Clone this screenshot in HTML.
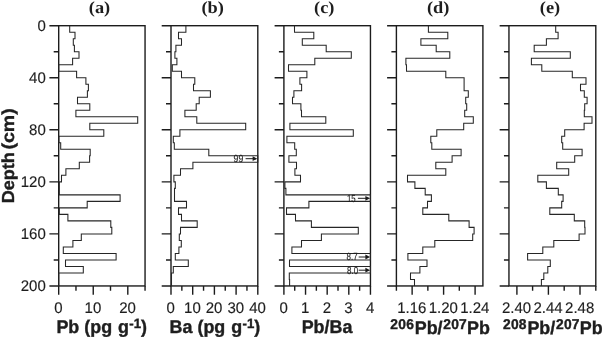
<!DOCTYPE html>
<html lang="en"><head><meta charset="utf-8"><title>Depth profiles</title>
<style>html,body{margin:0;padding:0;background:#fff;}body{width:602px;height:338px;overflow:hidden;}</style>
</head><body>
<svg width="602" height="338" viewBox="0 0 602 338" style="display:block" text-rendering="geometricPrecision">
<rect x="58.7" y="25.7" width="86.35" height="260.25" fill="none" stroke="#1c1c1c" stroke-width="1.4"/>
<path d="M49.40 25.70H58.70M53.70 51.72H58.70M49.40 77.75H58.70M53.70 103.78H58.70M49.40 129.80H58.70M53.70 155.82H58.70M49.40 181.85H58.70M53.70 207.88H58.70M49.40 233.90H58.70M53.70 259.93H58.70M49.40 285.95H58.70M58.70 285.95V294.75M93.24 285.95V294.75M127.80 285.95V294.75M75.97 285.95V290.65M110.50 285.95V290.65M145.05 285.95V290.65" fill="none" stroke="#1c1c1c" stroke-width="1.4"/>
<path d="M69.70 25.70V32.21H75.00V38.71H73.30V45.22H74.40V51.72H79.00V58.23H72.60V64.74H58.70V71.24H76.60V77.75H85.90V84.26H88.40V90.76H87.40V97.27H77.50V103.78H89.80V110.28H75.90V116.79H137.70V123.29H89.80V129.80H103.80V136.31H58.90V142.81H60.70V149.32H90.20V155.82H89.60V162.33H79.30V168.84H65.90V175.34H61.50V181.85H59.30V188.36H59.30V194.86H120.10V201.37H87.20V207.88H59.30V214.38H67.90V220.89H110.80V227.39H111.80V233.90H81.30V240.41H72.90V246.91H63.30V253.42H116.10V259.93H65.50V266.43H83.30V272.94H58.70V279.44H58.70V285.95" fill="none" stroke="#262626" stroke-width="1.05" stroke-linejoin="miter"/>
<text transform="translate(58.40,312.80) scale(0.975,1)" font-family='"Liberation Sans", Arial, Helvetica, sans-serif' font-size="15.4" font-weight="normal" text-anchor="middle" fill="#1e1e1e" stroke="#1e1e1e" stroke-width="0.15">0</text>
<text transform="translate(92.94,312.80) scale(0.975,1)" font-family='"Liberation Sans", Arial, Helvetica, sans-serif' font-size="15.4" font-weight="normal" text-anchor="middle" fill="#1e1e1e" stroke="#1e1e1e" stroke-width="0.15">10</text>
<text transform="translate(127.50,312.80) scale(0.975,1)" font-family='"Liberation Sans", Arial, Helvetica, sans-serif' font-size="15.4" font-weight="normal" text-anchor="middle" fill="#1e1e1e" stroke="#1e1e1e" stroke-width="0.15">20</text>
<text transform="translate(99.50,12.60) scale(1.08,1)" font-family='"Liberation Serif", "Times New Roman", serif' font-size="17" font-weight="bold" text-anchor="middle" fill="#1e1e1e">(a)</text>
<rect x="171.0" y="25.7" width="86.80" height="260.25" fill="none" stroke="#1c1c1c" stroke-width="1.4"/>
<path d="M161.70 25.70H171.00M166.00 51.72H171.00M161.70 77.75H171.00M166.00 103.78H171.00M161.70 129.80H171.00M166.00 155.82H171.00M161.70 181.85H171.00M166.00 207.88H171.00M161.70 233.90H171.00M166.00 259.93H171.00M161.70 285.95H171.00M171.00 285.95V294.75M192.70 285.95V294.75M214.40 285.95V294.75M236.10 285.95V294.75M257.80 285.95V294.75M181.85 285.95V290.65M203.55 285.95V290.65M225.25 285.95V290.65M246.95 285.95V290.65" fill="none" stroke="#1c1c1c" stroke-width="1.4"/>
<path d="M185.90 25.70V32.21H178.50V38.71H181.50V45.22H175.90V51.72H174.90V58.23H176.90V64.74H172.30V71.24H181.50V77.75H194.80V84.26H193.50V90.76H210.40V97.27H199.20V103.78H196.20V110.28H184.90V116.79H196.80V123.29H245.70V129.80H179.90V136.31H173.30V142.81H174.30V149.32H208.80V155.82H257.80V162.33H192.90V168.84H180.50V175.34H173.90V181.85H175.30V188.36H174.50V194.86H174.50V201.37H186.50V207.88H178.50V214.38H181.50V220.89H197.20V227.39H180.50V233.90H179.30V240.41H181.30V246.91H178.90V253.42H175.30V259.93H188.30V266.43H173.30V272.94H171.50V279.44H171.50V285.95" fill="none" stroke="#262626" stroke-width="1.05" stroke-linejoin="miter"/>
<text transform="translate(170.70,312.80) scale(0.975,1)" font-family='"Liberation Sans", Arial, Helvetica, sans-serif' font-size="15.4" font-weight="normal" text-anchor="middle" fill="#1e1e1e" stroke="#1e1e1e" stroke-width="0.15">0</text>
<text transform="translate(192.40,312.80) scale(0.975,1)" font-family='"Liberation Sans", Arial, Helvetica, sans-serif' font-size="15.4" font-weight="normal" text-anchor="middle" fill="#1e1e1e" stroke="#1e1e1e" stroke-width="0.15">10</text>
<text transform="translate(214.10,312.80) scale(0.975,1)" font-family='"Liberation Sans", Arial, Helvetica, sans-serif' font-size="15.4" font-weight="normal" text-anchor="middle" fill="#1e1e1e" stroke="#1e1e1e" stroke-width="0.15">20</text>
<text transform="translate(235.80,312.80) scale(0.975,1)" font-family='"Liberation Sans", Arial, Helvetica, sans-serif' font-size="15.4" font-weight="normal" text-anchor="middle" fill="#1e1e1e" stroke="#1e1e1e" stroke-width="0.15">30</text>
<text transform="translate(257.50,312.80) scale(0.975,1)" font-family='"Liberation Sans", Arial, Helvetica, sans-serif' font-size="15.4" font-weight="normal" text-anchor="middle" fill="#1e1e1e" stroke="#1e1e1e" stroke-width="0.15">40</text>
<text transform="translate(212.70,12.60) scale(1.08,1)" font-family='"Liberation Serif", "Times New Roman", serif' font-size="17" font-weight="bold" text-anchor="middle" fill="#1e1e1e">(b)</text>
<rect x="283.9" y="25.7" width="86.55" height="260.25" fill="none" stroke="#1c1c1c" stroke-width="1.4"/>
<path d="M274.60 25.70H283.90M278.90 51.72H283.90M274.60 77.75H283.90M278.90 103.78H283.90M274.60 129.80H283.90M278.90 155.82H283.90M274.60 181.85H283.90M278.90 207.88H283.90M274.60 233.90H283.90M278.90 259.93H283.90M274.60 285.95H283.90M283.90 285.95V294.75M305.54 285.95V294.75M327.18 285.95V294.75M348.80 285.95V294.75M370.45 285.95V294.75M294.72 285.95V290.65M316.36 285.95V290.65M338.00 285.95V290.65M359.63 285.95V290.65" fill="none" stroke="#1c1c1c" stroke-width="1.4"/>
<path d="M294.50 25.70V32.21H313.80V38.71H302.30V45.22H326.20V51.72H351.30V58.23H314.80V64.74H288.50V71.24H306.90V77.75H299.90V84.26H301.60V90.76H293.90V97.27H292.50V103.78H300.90V110.28H301.50V116.79H325.80V123.29H289.90V129.80H353.30V136.31H286.90V142.81H294.70V149.32H296.30V155.82H288.90V162.33H296.50V168.84H294.90V175.34H300.50V181.85H284.90V188.36H285.90V194.86H370.45V201.37H308.90V207.88H286.50V214.38H295.50V220.89H311.40V227.39H358.30V233.90H321.40V240.41H301.50V246.91H291.90V253.42H370.45V259.93H289.50V266.43H370.45V272.94H289.30V279.44H289.60V285.95" fill="none" stroke="#262626" stroke-width="1.05" stroke-linejoin="miter"/>
<text transform="translate(283.60,312.80) scale(0.975,1)" font-family='"Liberation Sans", Arial, Helvetica, sans-serif' font-size="15.4" font-weight="normal" text-anchor="middle" fill="#1e1e1e" stroke="#1e1e1e" stroke-width="0.15">0</text>
<text transform="translate(305.24,312.80) scale(0.975,1)" font-family='"Liberation Sans", Arial, Helvetica, sans-serif' font-size="15.4" font-weight="normal" text-anchor="middle" fill="#1e1e1e" stroke="#1e1e1e" stroke-width="0.15">1</text>
<text transform="translate(326.88,312.80) scale(0.975,1)" font-family='"Liberation Sans", Arial, Helvetica, sans-serif' font-size="15.4" font-weight="normal" text-anchor="middle" fill="#1e1e1e" stroke="#1e1e1e" stroke-width="0.15">2</text>
<text transform="translate(348.50,312.80) scale(0.975,1)" font-family='"Liberation Sans", Arial, Helvetica, sans-serif' font-size="15.4" font-weight="normal" text-anchor="middle" fill="#1e1e1e" stroke="#1e1e1e" stroke-width="0.15">3</text>
<text transform="translate(370.15,312.80) scale(0.975,1)" font-family='"Liberation Sans", Arial, Helvetica, sans-serif' font-size="15.4" font-weight="normal" text-anchor="middle" fill="#1e1e1e" stroke="#1e1e1e" stroke-width="0.15">4</text>
<text transform="translate(324.30,12.60) scale(1.08,1)" font-family='"Liberation Serif", "Times New Roman", serif' font-size="17" font-weight="bold" text-anchor="middle" fill="#1e1e1e">(c)</text>
<rect x="396.4" y="25.7" width="86.50" height="260.25" fill="none" stroke="#1c1c1c" stroke-width="1.4"/>
<path d="M387.10 25.70H396.40M391.40 51.72H396.40M387.10 77.75H396.40M391.40 103.78H396.40M387.10 129.80H396.40M391.40 155.82H396.40M387.10 181.85H396.40M391.40 207.88H396.40M387.10 233.90H396.40M391.40 259.93H396.40M387.10 285.95H396.40M412.13 285.95V294.75M443.60 285.95V294.75M475.10 285.95V294.75M396.40 285.95V290.65M427.86 285.95V290.65M459.30 285.95V290.65" fill="none" stroke="#1c1c1c" stroke-width="1.4"/>
<path d="M428.40 25.70V32.21H447.80V38.71H420.90V45.22H436.20V51.72H449.80V58.23H405.90V64.74H406.50V71.24H445.80V77.75H464.10V84.26H464.10V90.76H468.30V97.27H465.70V103.78H466.70V110.28H464.70V116.79H473.30V123.29H463.70V129.80H436.80V136.31H430.80V142.81H431.80V149.32H461.10V155.82H452.10V162.33H435.80V168.84H445.80V175.34H407.50V181.85H414.90V188.36H425.20V194.86H431.40V201.37H427.50V207.88H422.80V214.38H448.80V220.89H469.10V227.39H474.10V233.90H472.70V240.41H434.80V246.91H422.80V253.42H407.90V259.93H427.00V266.43H419.90V272.94H410.50V279.44H414.50V285.95" fill="none" stroke="#262626" stroke-width="1.05" stroke-linejoin="miter"/>
<text transform="translate(411.83,312.80) scale(0.975,1)" font-family='"Liberation Sans", Arial, Helvetica, sans-serif' font-size="15.4" font-weight="normal" text-anchor="middle" fill="#1e1e1e" stroke="#1e1e1e" stroke-width="0.15">1.16</text>
<text transform="translate(443.30,312.80) scale(0.975,1)" font-family='"Liberation Sans", Arial, Helvetica, sans-serif' font-size="15.4" font-weight="normal" text-anchor="middle" fill="#1e1e1e" stroke="#1e1e1e" stroke-width="0.15">1.20</text>
<text transform="translate(474.80,312.80) scale(0.975,1)" font-family='"Liberation Sans", Arial, Helvetica, sans-serif' font-size="15.4" font-weight="normal" text-anchor="middle" fill="#1e1e1e" stroke="#1e1e1e" stroke-width="0.15">1.24</text>
<text transform="translate(438.10,12.60) scale(1.08,1)" font-family='"Liberation Serif", "Times New Roman", serif' font-size="17" font-weight="bold" text-anchor="middle" fill="#1e1e1e">(d)</text>
<rect x="508.95" y="25.7" width="86.85" height="260.25" fill="none" stroke="#1c1c1c" stroke-width="1.4"/>
<path d="M499.65 25.70H508.95M503.95 51.72H508.95M499.65 77.75H508.95M503.95 103.78H508.95M499.65 129.80H508.95M503.95 155.82H508.95M499.65 181.85H508.95M503.95 207.88H508.95M499.65 233.90H508.95M503.95 259.93H508.95M499.65 285.95H508.95M516.90 285.95V294.75M548.40 285.95V294.75M580.00 285.95V294.75M532.60 285.95V290.65M564.20 285.95V290.65M595.80 285.95V290.65" fill="none" stroke="#1c1c1c" stroke-width="1.4"/>
<path d="M555.70 25.70V32.21H558.10V38.71H546.40V45.22H534.20V51.72H570.30V58.23H531.40V64.74H541.80V71.24H572.30V77.75H586.00V84.26H580.50V90.76H584.30V97.27H587.10V103.78H584.70V110.28H584.30V116.79H592.00V123.29H584.10V129.80H564.70V136.31H561.70V142.81H562.70V149.32H582.10V155.82H574.70V162.33H556.70V168.84H568.70V175.34H537.80V181.85H546.40V188.36H558.30V194.86H563.10V201.37H561.70V207.88H549.80V214.38H574.30V220.89H584.70V227.39H585.00V233.90H579.10V240.41H553.80V246.91H542.80V253.42H527.60V259.93H550.30V266.43H547.80V272.94H543.80V279.44H541.40V285.95" fill="none" stroke="#262626" stroke-width="1.05" stroke-linejoin="miter"/>
<text transform="translate(516.60,312.80) scale(0.975,1)" font-family='"Liberation Sans", Arial, Helvetica, sans-serif' font-size="15.4" font-weight="normal" text-anchor="middle" fill="#1e1e1e" stroke="#1e1e1e" stroke-width="0.15">2.40</text>
<text transform="translate(548.10,312.80) scale(0.975,1)" font-family='"Liberation Sans", Arial, Helvetica, sans-serif' font-size="15.4" font-weight="normal" text-anchor="middle" fill="#1e1e1e" stroke="#1e1e1e" stroke-width="0.15">2.44</text>
<text transform="translate(579.70,312.80) scale(0.975,1)" font-family='"Liberation Sans", Arial, Helvetica, sans-serif' font-size="15.4" font-weight="normal" text-anchor="middle" fill="#1e1e1e" stroke="#1e1e1e" stroke-width="0.15">2.48</text>
<text transform="translate(550.00,12.60) scale(1.08,1)" font-family='"Liberation Serif", "Times New Roman", serif' font-size="17" font-weight="bold" text-anchor="middle" fill="#1e1e1e">(e)</text>
<text transform="translate(45.80,30.80) scale(0.975,1)" font-family='"Liberation Sans", Arial, Helvetica, sans-serif' font-size="15.4" font-weight="normal" text-anchor="end" fill="#1e1e1e" stroke="#1e1e1e" stroke-width="0.15">0</text>
<text transform="translate(45.80,82.85) scale(0.975,1)" font-family='"Liberation Sans", Arial, Helvetica, sans-serif' font-size="15.4" font-weight="normal" text-anchor="end" fill="#1e1e1e" stroke="#1e1e1e" stroke-width="0.15">40</text>
<text transform="translate(45.80,134.90) scale(0.975,1)" font-family='"Liberation Sans", Arial, Helvetica, sans-serif' font-size="15.4" font-weight="normal" text-anchor="end" fill="#1e1e1e" stroke="#1e1e1e" stroke-width="0.15">80</text>
<text transform="translate(45.80,186.95) scale(0.975,1)" font-family='"Liberation Sans", Arial, Helvetica, sans-serif' font-size="15.4" font-weight="normal" text-anchor="end" fill="#1e1e1e" stroke="#1e1e1e" stroke-width="0.15">120</text>
<text transform="translate(45.80,239.00) scale(0.975,1)" font-family='"Liberation Sans", Arial, Helvetica, sans-serif' font-size="15.4" font-weight="normal" text-anchor="end" fill="#1e1e1e" stroke="#1e1e1e" stroke-width="0.15">160</text>
<text transform="translate(45.80,291.05) scale(0.975,1)" font-family='"Liberation Sans", Arial, Helvetica, sans-serif' font-size="15.4" font-weight="normal" text-anchor="end" fill="#1e1e1e" stroke="#1e1e1e" stroke-width="0.15">200</text>
<text transform="translate(13.6,203.2) rotate(-90) scale(0.98,0.945)" font-family='"Liberation Sans", Arial, Helvetica, sans-serif' font-size="18.4" font-weight="bold" text-anchor="start" fill="#1e1e1e" stroke="#1e1e1e" stroke-width="0.4">Depth</text>
<text transform="translate(13.6,149.5) rotate(-90) scale(1.062,0.945)" font-family='"Liberation Sans", Arial, Helvetica, sans-serif' font-size="18.4" font-weight="bold" text-anchor="start" fill="#1e1e1e" stroke="#1e1e1e" stroke-width="0.4">(cm)</text>
<text transform="translate(56.40,333.30) scale(0.973,1)" font-family='"Liberation Sans", Arial, Helvetica, sans-serif' font-size="18.4" font-weight="bold" text-anchor="start" fill="#1e1e1e" stroke="#1e1e1e" stroke-width="0.4">Pb (pg <tspan dx="1.1">g</tspan><tspan font-size="13.6" dy="-5.1" dx="0.3">-1</tspan><tspan dy="5.1" dx="0.0">)</tspan></text>
<text transform="translate(169.60,333.30) scale(0.973,1)" font-family='"Liberation Sans", Arial, Helvetica, sans-serif' font-size="18.4" font-weight="bold" text-anchor="start" fill="#1e1e1e" stroke="#1e1e1e" stroke-width="0.4">Ba (pg <tspan dx="1.1">g</tspan><tspan font-size="13.6" dy="-5.1" dx="0.3">-1</tspan><tspan dy="5.1" dx="0.0">)</tspan></text>
<text transform="translate(327.00,333.10) scale(0.973,1)" font-family='"Liberation Sans", Arial, Helvetica, sans-serif' font-size="18.4" font-weight="bold" text-anchor="middle" fill="#1e1e1e" stroke="#1e1e1e" stroke-width="0.4">Pb/Ba</text>
<text transform="translate(390.30,334.40) scale(0.973,1)" font-family='"Liberation Sans", Arial, Helvetica, sans-serif' font-size="18.4" font-weight="bold" text-anchor="start" fill="#1e1e1e" stroke="#1e1e1e" stroke-width="0.4"><tspan font-size="14.2" letter-spacing="0.25" dy="-5.6" dx="0">206</tspan><tspan dy="5.6" dx="0.7">Pb/</tspan><tspan font-size="14.2" letter-spacing="0.25" dy="-5.6" dx="0.7">207</tspan><tspan dy="5.6" dx="0.0">Pb</tspan></text>
<text transform="translate(503.00,334.40) scale(0.973,1)" font-family='"Liberation Sans", Arial, Helvetica, sans-serif' font-size="18.4" font-weight="bold" text-anchor="start" fill="#1e1e1e" stroke="#1e1e1e" stroke-width="0.4"><tspan font-size="14.2" letter-spacing="0.25" dy="-5.6" dx="0">208</tspan><tspan dy="5.6" dx="0.7">Pb/</tspan><tspan font-size="14.2" letter-spacing="0.25" dy="-5.6" dx="0.7">207</tspan><tspan dy="5.6" dx="0.0">Pb</tspan></text>
<text transform="translate(243.20,162.30) scale(0.84,1)" font-family='"Liberation Sans", Arial, Helvetica, sans-serif' font-size="10.3" font-weight="normal" text-anchor="end" fill="#1e1e1e" stroke="#1e1e1e" stroke-width="0.15">99</text><path d="M245.60 158.70H254.00" stroke="#1c1c1c" stroke-width="1.0" fill="none"/><path d="M257.30 158.70L252.60 156.30V161.10Z" fill="#1c1c1c"/>
<text transform="translate(355.60,201.80) scale(0.76,1)" font-family='"Liberation Sans", Arial, Helvetica, sans-serif' font-size="10.3" font-weight="normal" text-anchor="end" fill="#1e1e1e" stroke="#1e1e1e" stroke-width="0.15">15</text><path d="M357.90 198.30H366.80" stroke="#1c1c1c" stroke-width="1.0" fill="none"/><path d="M370.10 198.30L365.40 195.90V200.70Z" fill="#1c1c1c"/>
<text transform="translate(357.60,260.30) scale(0.77,1)" font-family='"Liberation Sans", Arial, Helvetica, sans-serif' font-size="10.3" font-weight="normal" text-anchor="end" fill="#1e1e1e" stroke="#1e1e1e" stroke-width="0.15">8.7</text><path d="M358.70 257.00H366.80" stroke="#1c1c1c" stroke-width="1.0" fill="none"/><path d="M370.10 257.00L365.40 254.60V259.40Z" fill="#1c1c1c"/>
<text transform="translate(358.10,273.50) scale(0.77,1)" font-family='"Liberation Sans", Arial, Helvetica, sans-serif' font-size="10.3" font-weight="normal" text-anchor="end" fill="#1e1e1e" stroke="#1e1e1e" stroke-width="0.15">8.0</text><path d="M358.70 270.20H366.80" stroke="#1c1c1c" stroke-width="1.0" fill="none"/><path d="M370.10 270.20L365.40 267.80V272.60Z" fill="#1c1c1c"/>
</svg>
</body></html>
